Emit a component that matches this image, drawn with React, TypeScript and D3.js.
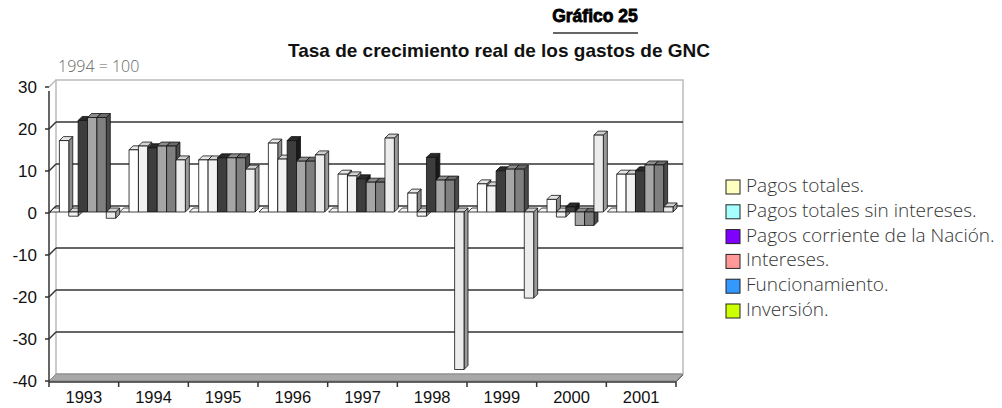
import React from 'react';
import * as d3 from 'd3';

const years = ['1993', '1994', '1995', '1996', '1997', '1998', '1999', '2000', '2001'];
const seriesNames = [
  'Pagos totales.',
  'Pagos totales sin intereses.',
  'Pagos corriente de la Nación.',
  'Intereses.',
  'Funcionamiento.',
  'Inversión.',
];
// zero-valued leading column in every group (no legend entry)
const blankSeries = [0, 0, 0, 0, 0, 0, 0, 0, 0];
const pagosTotales = [17, 14.8, 12.4, 16.4, 9, 4.5, 6.7, 3, 9];
const pagosSinIntereses = [-1, 15.7, 12.4, 12.6, 8.6, -1, 6.2, -1.2, 9];
const pagosCorriente = [21.8, 15.3, 12.9, 17, 7.9, 13, 9.8, 1.2, 9.8];
const intereses = [22.5, 15.7, 12.9, 12.1, 7.1, 7.6, 10.2, -3.2, 11.2];
const funcionamiento = [22.5, 15.7, 12.9, 12.1, 7.1, 7.6, 10.2, -3.2, 11.2];
const inversion = [-1.5, 12.4, 10.2, 13.6, 17.6, -37.5, -20.5, 18.3, 1.2];
const yTicks = [30, 20, 10, 0, -10, -20, -30, -40];
const legendColors = ['#ffffc0', '#a6ffff', '#8000ff', '#ff9999', '#3399ff', '#ccff00'];

const allSeries = [blankSeries, pagosTotales, pagosSinIntereses, pagosCorriente, intereses, funcionamiento, inversion];
const barStyles = [
  { front: '#ffffff', side: '#bdbdbd', top: '#f4f4f4' },
  { front: '#ffffff', side: '#8c8c8c', top: '#e6e6e6' },
  { front: '#f2f2f2', side: '#9a9a9a', top: '#d4d4d4' },
  { front: '#3d3d3d', side: '#1a1a1a', top: '#2a2a2a' },
  { front: '#a6a6a6', side: '#5e5e5e', top: '#8c8c8c' },
  { front: '#7f7f7f', side: '#4a4a4a', top: '#6b6b6b' },
  { front: '#ececec', side: '#9a9a9a', top: '#cfcfcf' },
];

const X0 = 49, X1 = 676;
const DEPTH = 7;
const BAR_D = 4;
const BAR_OFF = 1;

export default function App() {
  const yF = d3.scaleLinear().domain([-40, 30]).range([381, 87]);
  const xB = d3.scaleBand().domain(years).range([X0, X1]).padding(0);
  const slots = d3.range(allSeries.length).map(String);
  const xS = d3.scaleBand().domain(slots).range([0, xB.bandwidth() - 4]).padding(0);
  const bw = xS.bandwidth();

  const bars: React.ReactNode[] = [];
  years.forEach((yr, ci) => {
    allSeries.forEach((ser, si) => {
      const v = ser[ci];
      const x = (xB(yr) as number) + (xS(String(si)) as number) + BAR_OFF;
      const yv = yF(v) - BAR_OFF;
      const y0 = yF(0) - BAR_OFF;
      const top = Math.min(yv, y0);
      const bot = Math.max(yv, y0);
      const st = barStyles[si];
      const d = BAR_D;
      bars.push(
        <g key={`${yr}-${si}`} stroke="#111" strokeWidth={0.8} strokeLinejoin="round">
          <polygon points={`${x + bw},${top} ${x + bw + d},${top - d} ${x + bw + d},${bot - d} ${x + bw},${bot}`} fill={st.side} />
          <polygon points={`${x},${top} ${x + d},${top - d} ${x + bw + d},${top - d} ${x + bw},${top}`} fill={st.top} />
          {bot - top > 0.1 && <rect x={x} y={top} width={bw} height={bot - top} fill={st.front} />}
        </g>
      );
    });
  });

  const font = '"Liberation Sans", Arial, Helvetica, sans-serif';
  const light = '"Open Sans", "Liberation Sans", sans-serif';
  const gridVals = yTicks.filter(t => t !== 30 && t !== -40);

  return (
    <svg width={1002} height={408} style={{ position: 'absolute', left: 0, top: 0, background: '#fff' }} fontFamily={font}>
      {/* titles */}
      <text x={595} y={22} textAnchor="middle" fontSize={17.5} fontWeight="bold" stroke="#000" strokeWidth={0.8} fill="#000">Gráfico 25</text>
      <line x1={553} x2={638} y1={33} y2={33} stroke="#666" strokeWidth={2} />
      <text x={499} y={57} textAnchor="middle" fontSize={19} fontWeight="bold" fill="#111">Tasa de crecimiento real de los gastos de GNC</text>
      <text x={58} y={72} fontSize={16} fontFamily={light} fontWeight={300} fill="#666">1994 = 100</text>

      {/* back wall */}
      <rect x={X0 + DEPTH} y={yF(30) - DEPTH} width={X1 - X0} height={yF(-40) - yF(30)} fill="#fff" stroke="#bbb" strokeWidth={1.5} />
      <line x1={X0} y1={yF(30)} x2={X0 + DEPTH} y2={yF(30) - DEPTH} stroke="#bbb" strokeWidth={1.5} />
      {gridVals.map(t => (
        <g key={t} stroke="#333" strokeWidth={1.5} fill="none">
          <line x1={X0 + DEPTH} x2={X1 + DEPTH} y1={yF(t) - DEPTH} y2={yF(t) - DEPTH} />
          <line x1={X0} x2={X0 + DEPTH} y1={yF(t)} y2={yF(t) - DEPTH} />
        </g>
      ))}
      {/* floor */}
      <polygon points={`${X0},${yF(-40)} ${X1},${yF(-40)} ${X1 + DEPTH},${yF(-40) - DEPTH} ${X0 + DEPTH},${yF(-40) - DEPTH}`} fill="#a8a8a8" stroke="#888" strokeWidth={1} />

      {bars}

      {/* axes */}
      <line x1={X0} x2={X0} y1={yF(30) + 4} y2={yF(-40) + 1} stroke="#333" strokeWidth={1.5} />
      {yTicks.map(t => (
        <g key={t}>
          <line x1={X0 - 4} x2={X0} y1={yF(t)} y2={yF(t)} stroke="#333" strokeWidth={1.5} />
          <text x={37} y={yF(t) + 2} textAnchor="end" dominantBaseline="middle" fontSize={17} fill="#111">{t}</text>
        </g>
      ))}
      <line x1={X0} x2={X1} y1={yF(-40) + 1} y2={yF(-40) + 1} stroke="#333" strokeWidth={1.5} />
      <line x1={X1} x2={X1 + DEPTH} y1={yF(-40) + 1} y2={yF(-40) - DEPTH + 1} stroke="#666" strokeWidth={1} />
      {[...years.map(y => xB(y) as number), X1].map((x, i) => (
        <line key={i} x1={x} x2={x} y1={yF(-40) + 1} y2={yF(-40) + 6} stroke="#333" strokeWidth={1.5} />
      ))}
      {years.map(y => (
        <text key={y} x={(xB(y) as number) + xB.bandwidth() / 2} y={403} textAnchor="middle" fontSize={16.5} fill="#111">{y}</text>
      ))}

      {/* legend */}
      {seriesNames.map((n, i) => {
        const cy = 187 + i * 24.8;
        return (
          <g key={n}>
            <rect x={726} y={cy - 7} width={14} height={14} fill={legendColors[i]} stroke="#222" strokeWidth={1} />
            <text x={746} y={cy} dominantBaseline="middle" fontSize={19} fontFamily={light} fontWeight={300} fill="#333">{n}</text>
          </g>
        );
      })}
    </svg>
  );
}
